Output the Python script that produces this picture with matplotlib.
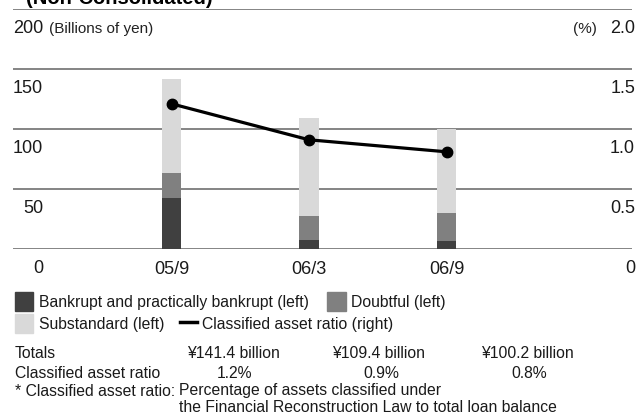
import matplotlib.pyplot as plt
import matplotlib.transforms as mtransforms
from matplotlib.patches import Rectangle
from matplotlib.lines import Line2D

plt.rcParams['font.family'] = ['Liberation Sans', 'DejaVu Sans']

W, H = 637, 418

periods = ['05/9', '06/3', '06/9']
bankrupt = [42.5, 7.5, 6.5]
doubtful = [21.0, 20.0, 23.5]
substandard = [77.9, 81.9, 70.2]
ratio = [1.21, 0.91, 0.81]
totals = ['¥141.4 billion', '¥109.4 billion', '¥100.2 billion']
ratio_text = ['1.2%', '0.9%', '0.8%']
left_ticks = [0, 50, 100, 150, 200]
right_ticks = [0, 0.5, 1.0, 1.5, 2.0]

c_bank = '#404040'
c_doubt = '#808080'
c_sub = '#d9d9d9'
c_grid = '#707070'
c_text = '#1a1a1a'


def fx(x):
    return x / W


def fy(y):
    return 1 - y / H


fig = plt.figure(figsize=(W / 100, H / 100), dpi=100)
ax_w = 632 - 13
ax = fig.add_axes([fx(13), fy(249), ax_w / W, (249 - 9) / H])
ax.set_xlim(-1.153, 3.349)
ax.set_ylim(0, 200)
for s in ax.spines.values():
    s.set_visible(False)
ax.set_xticks([])
ax.set_yticks([])

for v in left_ticks:
    ax.axhline(v, color=c_grid, lw=1.2, zorder=0)

x = range(len(periods))
w = 0.14
ax.bar(x, bankrupt, w, color=c_bank, zorder=2)
ax.bar(x, doubtful, w, bottom=bankrupt, color=c_doubt, zorder=2)
bottom3 = [a + b for a, b in zip(bankrupt, doubtful)]
ax.bar(x, substandard, w, bottom=bottom3, color=c_sub, zorder=2)

ax2 = ax.twinx()
ax2.set_ylim(0, 2)
for s in ax2.spines.values():
    s.set_visible(False)
ax2.set_yticks([])
ax2.plot(list(x), ratio, color='black', lw=2.3, marker='o', ms=7.5, zorder=5)

# tick labels sit just below each gridline
tick_fs = 13
off = mtransforms.offset_copy(ax.get_yaxis_transform(), fig=fig, x=0, y=-19.5, units='dots')
for v in left_ticks:
    ax.text(30 / ax_w, v, str(v), transform=off, ha='right', va='center',
            fontsize=tick_fs, color=c_text)
ax.text(36 / ax_w, 200, '(Billions of yen)', transform=off, ha='left',
        va='center', fontsize=11, color='#222222')

offr = mtransforms.offset_copy(ax2.get_yaxis_transform(), fig=fig, x=0, y=-19.5, units='dots')
for v in right_ticks:
    lab = '0' if v == 0 else f'{v:.1f}'
    ax2.text(1 + 3 / ax_w, v, lab, transform=offr, ha='right', va='center',
             fontsize=tick_fs, color=c_text)
ax2.text(1 - 35 / ax_w, 2.0, '(%)', transform=offr, ha='right', va='center',
         fontsize=11, color='#222222')

for i, p in enumerate(periods):
    ax.text(i, -20.5 / 240, p, transform=ax.get_xaxis_transform(), ha='center',
            va='center', fontsize=tick_fs, color=c_text)

# title, clipped by the top edge as in the source
fig.text(fx(26), fy(4.5), '(Non-Consolidated)', ha='left', va='baseline',
         fontsize=14.5, fontweight='bold', color='black')

# legend
fs = 11.3


def square(x0, y0, x1, y1, color):
    fig.patches.append(Rectangle((fx(x0), fy(y1)), fx(x1) - fx(x0), (y1 - y0) / H,
                                 transform=fig.transFigure, color=color))


square(15, 292, 33, 311, c_bank)
fig.text(fx(39), fy(302), 'Bankrupt and practically bankrupt (left)', va='center',
         fontsize=fs, color=c_text)
square(327, 292, 346, 311, c_doubt)
fig.text(fx(351), fy(302), 'Doubtful (left)', va='center', fontsize=fs, color=c_text)
square(15, 314, 33, 333, c_sub)
fig.text(fx(39), fy(325), 'Substandard (left)', va='center', fontsize=fs, color=c_text)
fig.lines.append(Line2D([fx(180), fx(197)], [fy(322), fy(322)], transform=fig.transFigure,
                        color='black', lw=2.5))
fig.text(fx(202), fy(325), 'Classified asset ratio (right)', va='center', fontsize=fs,
         color=c_text)

# totals table
fig.text(fx(15), fy(354), 'Totals', va='center', fontsize=fs, color=c_text)
fig.text(fx(15), fy(373), 'Classified asset ratio', va='center', fontsize=fs, color=c_text)
col_x = [233, 379, 527]
for cx, t, r in zip(col_x, totals, ratio_text):
    fig.text(fx(cx), fy(354), t, ha='center', va='center', fontsize=fs, color=c_text)
    fig.text(fx(cx + 2), fy(373), r, ha='center', va='center', fontsize=fs, color=c_text)

# footnote: second line lines up with "Percentage"
lead = fig.text(fx(15), fy(391), '* Classified asset ratio:', va='center',
                fontsize=fs, color=c_text)
renderer = fig.canvas.get_renderer()
bb = lead.get_window_extent(renderer)
x_note = bb.x1 / W + fx(4)
fig.text(x_note, fy(391), 'Percentage of assets classified under',
         va='center', fontsize=fs, color=c_text)
fig.text(x_note, fy(408), 'the Financial Reconstruction Law to total loan balance',
         va='center', fontsize=fs, color=c_text)

fig.savefig('out.png', dpi=100)
